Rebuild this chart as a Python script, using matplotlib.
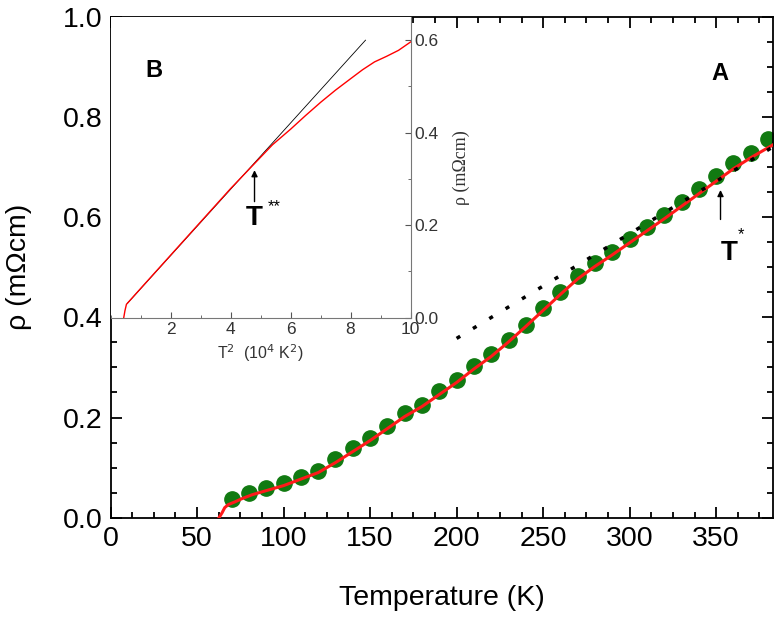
import matplotlib
matplotlib.use("Agg")
import matplotlib.pyplot as plt
from matplotlib.ticker import MultipleLocator

plt.rcParams['font.family'] = ['Liberation Sans', 'DejaVu Sans']

# main panel: green points (T, rho)
temp_pts = [70, 80, 90, 100, 110, 120, 130, 140, 150, 160, 170, 180, 190, 200,
            210, 220, 230, 240, 250, 260, 270, 280, 290, 300, 310, 320, 330,
            340, 350, 360, 370, 380]
rho_pts = [0.037, 0.049, 0.060, 0.069, 0.082, 0.093, 0.117, 0.139, 0.159, 0.183,
           0.210, 0.225, 0.252, 0.275, 0.303, 0.326, 0.355, 0.385, 0.418, 0.451,
           0.483, 0.508, 0.531, 0.556, 0.581, 0.605, 0.631, 0.656, 0.682, 0.708,
           0.729, 0.756]

# main panel: red curve
temp_line = [62.7, 64.5, 66, 68, 71.5, 76, 82, 90, 100, 110, 120, 130, 140, 150,
             160, 170, 180, 190, 200, 210, 220, 230, 240, 250, 260, 270, 280,
             290, 300, 310, 320, 330, 340, 350, 360, 370, 386]
rho_line = [0.0, 0.010, 0.020, 0.026, 0.031, 0.038, 0.046, 0.054, 0.064, 0.077,
            0.090, 0.110, 0.132, 0.154, 0.178, 0.202, 0.222, 0.246, 0.270, 0.297,
            0.322, 0.351, 0.382, 0.414, 0.446, 0.477, 0.502, 0.525, 0.549, 0.573,
            0.597, 0.622, 0.647, 0.672, 0.697, 0.719, 0.751]

# dotted linear guide
temp_fit = [200, 384]
rho_fit = [0.358, 0.743]

# inset: rho vs T^2 (1e4 K^2)
t2_line = [0.44, 0.48, 0.53, 1.0, 2.0, 3.0, 4.0, 4.84, 5.4, 6.01, 6.5, 7.01,
           7.5, 8.01, 8.4, 8.8, 9.2, 9.6, 10.0]
rho_inset = [0.0, 0.015, 0.029, 0.063, 0.135, 0.207, 0.279, 0.336, 0.374, 0.408,
             0.437, 0.466, 0.492, 0.517, 0.536, 0.553, 0.565, 0.578, 0.596]
t2_fit = [0.56, 8.5]
rho_inset_fit = [0.031, 0.600]

fig = plt.figure(figsize=(7.8, 6.17), dpi=100)
ax = fig.add_axes([0.1417, 0.161, 0.8497, 0.8115])

ax.plot(temp_pts, rho_pts, 'o', color='#117a11', markersize=11, zorder=2)
ax.plot(temp_line, rho_line, '-', color='#ff1a1a', lw=2.2, zorder=3)
ax.plot(temp_fit, rho_fit, color='black', lw=2.5, linestyle=(0, (1.2, 4.3)), zorder=4)

ax.set_xlim(0, 383)
ax.set_ylim(0, 1.0)
ax.xaxis.set_major_locator(MultipleLocator(50))
ax.xaxis.set_minor_locator(MultipleLocator(12.5))
ax.yaxis.set_major_locator(MultipleLocator(0.2))
ax.yaxis.set_minor_locator(MultipleLocator(0.05))
ax.yaxis.set_major_formatter(plt.FormatStrFormatter('%.1f'))
ax.tick_params(which='both', direction='in', top=True, right=True, width=1.3)
ax.tick_params(which='major', length=8, labelsize=20.5, pad=6)
ax.tick_params(which='minor', length=4)
for s in ax.spines.values():
    s.set_linewidth(1.3)
ax.set_xlabel('Temperature (K)', fontsize=20.5, labelpad=24)
ax.set_ylabel('ρ (mΩcm)', fontsize=20.5, labelpad=22)

ax.text(352, 0.888, 'A', fontsize=17, fontweight='bold', ha='center', va='center')
ax.annotate('', xy=(352.5, 0.66), xytext=(352.5, 0.59),
            arrowprops=dict(arrowstyle='-|>', color='black', lw=1, mutation_scale=9))
ax.text(357.5, 0.528, 'T', fontsize=20, fontweight='bold', ha='center', va='center')
ax.text(364.5, 0.565, '*', fontsize=12, ha='center', va='center')

# inset
ins = fig.add_axes([0.1417, 0.485, 0.3846, 0.4874])
ins.plot(t2_fit, rho_inset_fit, color='black', lw=0.6)
ins.plot(t2_line, rho_inset, color='red', lw=1)
ins.set_xlim(0, 10)
ins.set_ylim(0, 0.65)
ins.xaxis.set_major_locator(MultipleLocator(2))
ins.xaxis.set_minor_locator(MultipleLocator(1))
ins.yaxis.set_major_locator(MultipleLocator(0.2))
ins.yaxis.set_minor_locator(MultipleLocator(0.1))
ins.yaxis.set_major_formatter(plt.FormatStrFormatter('%.1f'))
ins.set_xticks([2, 4, 6, 8, 10])
ins.yaxis.tick_right()
ins.yaxis.set_label_position('right')
ins.tick_params(which='both', direction='in', left=False, top=False, right=True,
                colors='#555555', labelcolor='#333333')
ins.tick_params(which='major', length=4, labelsize=12.5)
ins.tick_params(axis='x', which='major', pad=3)
ins.tick_params(axis='y', which='major', pad=3)
ins.tick_params(which='minor', length=2)
for s in ins.spines.values():
    s.set_color('#777777')
    s.set_linewidth(0.8)
ins.spines['left'].set_visible(False)
ins.spines['top'].set_visible(False)
ins.set_xlabel(r'T$^2$  (10$^4$ K$^2$)', fontsize=11.5, color='#333333', labelpad=4)
ins.set_ylabel('ρ (mΩcm)', fontsize=13, color='#333333',
               family=['Liberation Serif', 'DejaVu Serif'], labelpad=10)

ins.text(1.45, 0.535, 'B', fontsize=17, fontweight='bold', ha='center', va='center')
ins.annotate('', xy=(4.8, 0.325), xytext=(4.8, 0.245),
             arrowprops=dict(arrowstyle='-|>', color='black', lw=1, mutation_scale=9))
ins.text(4.78, 0.215, 'T', fontsize=20, fontweight='bold', ha='center', va='center')
ins.text(5.45, 0.24, '**', fontsize=12, ha='center', va='center')

fig.savefig('out.png', dpi=100)
